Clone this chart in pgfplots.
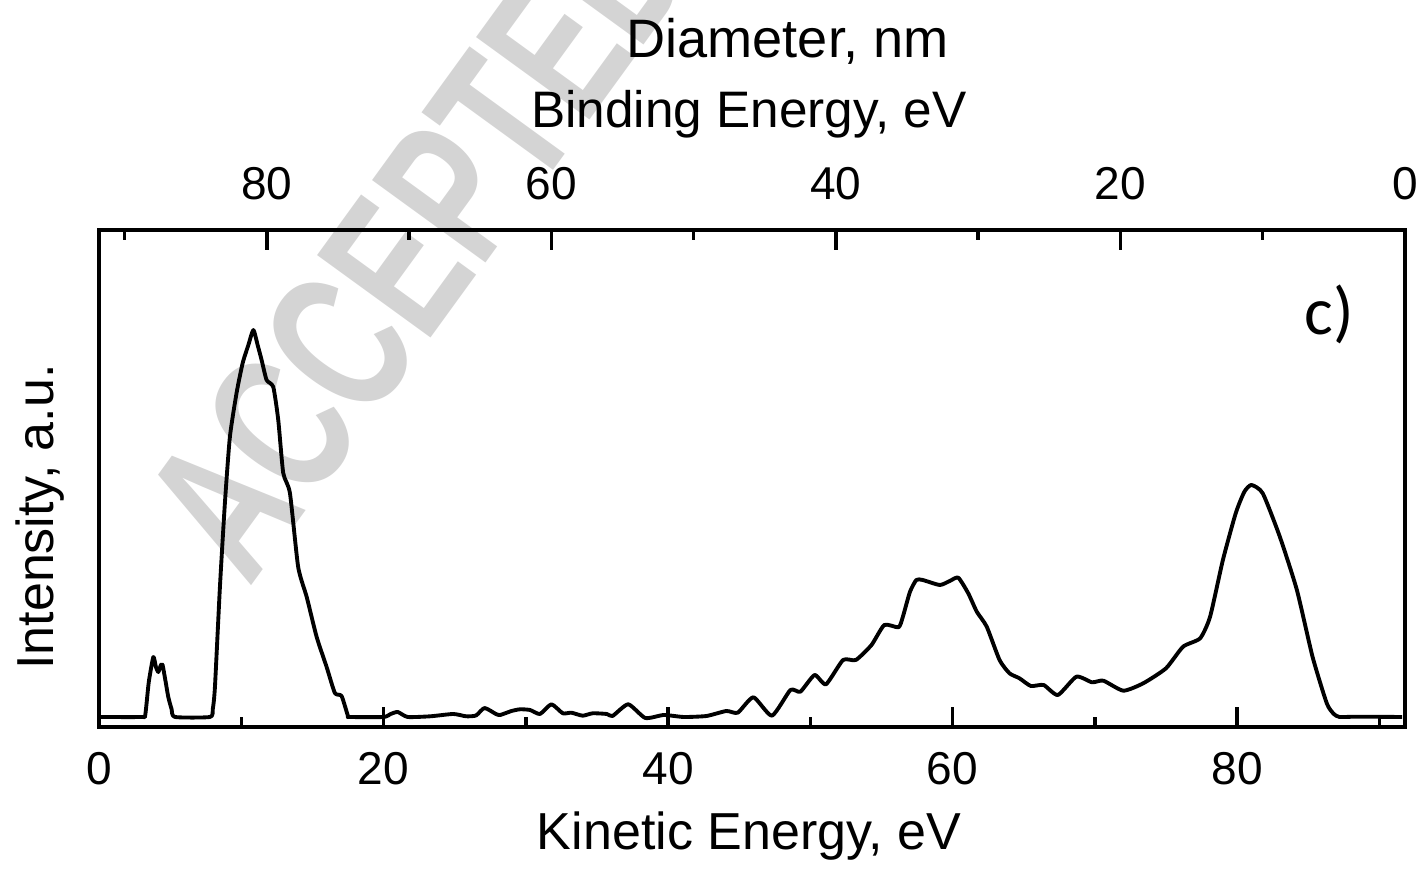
\documentclass[border=0pt]{standalone}
\usepackage{pgfplots}
\pgfplotsset{compat=1.18}
\usepackage{fontspec}
\setmainfont{Liberation Sans}
\newfontfamily\calib{Carlito}
\begin{document}
\begin{tikzpicture}
\useasboundingbox (-0.99,-1.42) rectangle (13.20,7.27);
% watermark (behind everything)
\node[rotate=54, xscale=0.68, anchor=base west, text=gray!34, inner sep=0pt,
      font=\fontsize{58}{58}\selectfont\bfseries] at (1.50,1.38) {ACCEPTED};
\begin{axis}[
  at={(0,0)}, anchor=south west,
  scale only axis, width=13.06cm, height=4.97cm,
  xmin=0, xmax=91.8, ymin=-10, ymax=487,
  axis line style={line width=1.1pt},
  xtick={0,20,40,60,80}, minor xtick={10,30,50,70,90},
  xtick pos=bottom, tick align=inside,
  major tick length=0.2cm, minor tick length=0.1cm,
  every tick/.style={black, line width=1.0pt},
  ytick=\empty,
  /pgf/number format/assume math mode=true,
  tick label style={font=\fontsize{13.1}{15}\selectfont},
  xticklabel style={yshift=-0.13cm},
  clip=false,
]
\addplot[black, line width=1.1pt, line join=round, smooth, tension=0.35] coordinates {
(0.1,0) (3.0,0) (3.25,2) (3.5,35) (3.82,60) (4.0,50) (4.17,45) (4.35,52) (4.47,52)
(4.65,38) (4.87,20) (5.1,8) (5.34,0) (7.8,0) (8.0,8) (8.15,30) (8.5,130) (8.85,214)
(9.2,280) (9.67,324) (10.1,354) (10.5,372) (10.85,387) (11.15,372) (11.43,357)
(11.78,337) (12.25,330) (12.6,297) (12.95,244) (13.42,224) (14.0,150) (14.6,120)
(15.3,80) (16.0,50) (16.58,24) (17.05,21) (17.5,1) (17.6,0) (20.0,0) (20.5,3)
(21.0,5) (21.7,0) (23.3,0.7) (24.9,3) (25.8,0.7) (26.5,1.5) (27.1,9) (27.9,3)
(28.2,2) (29.0,6) (29.6,7.7) (30.3,7) (31.0,3) (31.8,12.7) (32.6,3.7) (33.2,4.3)
(34.0,1.3) (34.7,3.7) (35.7,3) (36.1,1) (37.2,12.7) (38.4,-1) (39.7,2) (41.1,0)
(42.7,1) (44.1,6) (44.9,4.3) (46.0,19.7) (47.3,1.3) (48.6,27) (49.3,25.3)
(50.3,42) (51.1,32.7) (52.3,57) (53.2,57) (54.3,72) (55.2,92) (56.2,89.7)
(56.5,100) (57.0,125) (57.45,137) (57.9,137) (59.1,132) (59.8,136) (60.4,139.3)
(61.1,123.7) (61.7,105.3) (62.4,90.3) (63.3,57) (64.0,43.7) (64.7,38.7) (65.5,31)
(66.4,32) (67.4,22) (68.7,40.3) (69.8,34.7) (70.6,36.3) (72.0,26.3) (73.4,33.7)
(75.0,48.7) (76.2,70.3) (77.4,78.7) (78.1,100.3) (79.0,157) (79.9,203.7)
(80.5,225) (81.0,232) (81.8,223.7) (83.0,180.3) (84.2,127) (85.3,60.3)
(86.3,13.7) (86.8,3) (87.2,0) (88.4,0.3) (91.6,0)
};
\node[anchor=base, font=\calib\fontsize{19.3}{20}\selectfont] at (axis cs:86.5,382) {c)};
\end{axis}
\begin{axis}[
  at={(0,0)}, anchor=south west,
  scale only axis, width=13.06cm, height=4.97cm,
  xmin=0, xmax=91.8, ymin=0, ymax=1, x dir=reverse,
  axis line style={draw=none},
  xtick={0,20,40,60,80}, minor xtick={10,30,50,70,90},
  xtick pos=top, xticklabel pos=top, tick align=inside,
  major tick length=0.2cm, minor tick length=0.1cm,
  every tick/.style={black, line width=1.0pt},
  ytick=\empty,
  /pgf/number format/assume math mode=true,
  tick label style={font=\fontsize{13.1}{15}\selectfont},
  xticklabel style={yshift=0.18cm},
]
\addplot[draw=none] coordinates {(0,0)};
\end{axis}
\node[anchor=base, font=\fontsize{15.4}{16}\selectfont] at (6.885,6.69) {Diameter, nm};
\node[anchor=base, font=\fontsize{14.6}{16}\selectfont] at (6.50,5.99) {Binding Energy, eV};
\node[anchor=base, font=\fontsize{14.8}{16}\selectfont] at (6.50,-1.23) {Kinetic Energy, eV};
\node[anchor=base, rotate=90, font=\fontsize{14.8}{16}\selectfont] at (-0.46,2.10) {Intensity, a.u.};
\end{tikzpicture}
\end{document}
